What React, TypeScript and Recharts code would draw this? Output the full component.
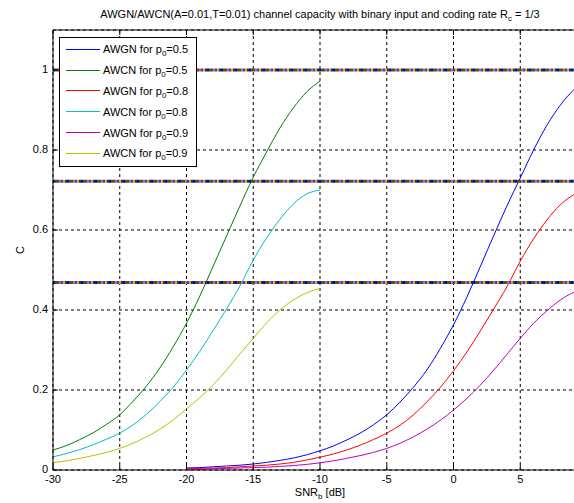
import React from "react";
import { LineChart, Line, XAxis, YAxis, CartesianGrid, ReferenceLine } from "recharts";

// SNR grids (dB)
const snrAwgn = [-20, -19, -18, -17, -16, -15, -14, -13, -12, -11, -10, -9, -8, -7, -6, -5, -4, -3, -2, -1, 0, 1, 2, 3, 4, 5, 6, 7, 8, 9, 10];
const snrAwcn = [-30, -29, -28, -27, -26, -25, -24, -23, -22, -21, -20, -19, -18, -17, -16, -15, -14, -13, -12, -11, -10];

// capacity readings, AWGN channel
const awgn05 = [0.005, 0.006, 0.008, 0.01, 0.012, 0.015, 0.019, 0.024, 0.03, 0.038, 0.048, 0.06, 0.075, 0.092, 0.113, 0.138, 0.17, 0.207, 0.25, 0.303, 0.363, 0.432, 0.508, 0.585, 0.66, 0.73, 0.8, 0.862, 0.912, 0.95, 0.973];
const awgn08 = [0.003, 0.004, 0.005, 0.006, 0.008, 0.01, 0.012, 0.015, 0.019, 0.025, 0.032, 0.04, 0.05, 0.062, 0.076, 0.092, 0.112, 0.138, 0.17, 0.206, 0.248, 0.295, 0.347, 0.402, 0.458, 0.522, 0.578, 0.625, 0.663, 0.688, 0.702];
const awgn09 = [0.002, 0.002, 0.003, 0.004, 0.005, 0.006, 0.007, 0.009, 0.011, 0.014, 0.018, 0.023, 0.029, 0.036, 0.044, 0.054, 0.067, 0.083, 0.102, 0.124, 0.15, 0.179, 0.212, 0.249, 0.289, 0.329, 0.367, 0.398, 0.425, 0.444, 0.455];

// capacity readings, AWCN channel
const awcn05 = [0.05, 0.061, 0.076, 0.093, 0.114, 0.138, 0.172, 0.21, 0.255, 0.308, 0.367, 0.435, 0.51, 0.585, 0.66, 0.732, 0.795, 0.855, 0.905, 0.945, 0.972];
const awcn08 = [0.033, 0.041, 0.051, 0.063, 0.077, 0.092, 0.113, 0.139, 0.171, 0.207, 0.25, 0.297, 0.349, 0.403, 0.46, 0.525, 0.58, 0.627, 0.665, 0.69, 0.7];
const awcn09 = [0.018, 0.023, 0.029, 0.036, 0.044, 0.054, 0.067, 0.083, 0.102, 0.125, 0.153, 0.181, 0.213, 0.25, 0.29, 0.329, 0.368, 0.4, 0.425, 0.443, 0.454];

// entropy limits H(p0)
const capacityLimits = [1, 0.722, 0.469];

// the 10 dB tick falls outside the visible picture
const xTicks = [-30, -25, -20, -15, -10, -5, 0, 5];
const yTicks = [0, 0.2, 0.4, 0.6, 0.8, 1];

const series = [
  { channel: "AWGN", p0: "0.5", color: "#0000ff", snr: snrAwgn, values: awgn05 },
  { channel: "AWCN", p0: "0.5", color: "#008000", snr: snrAwcn, values: awcn05 },
  { channel: "AWGN", p0: "0.8", color: "#ff0000", snr: snrAwgn, values: awgn08 },
  { channel: "AWCN", p0: "0.8", color: "#00bfbf", snr: snrAwcn, values: awcn08 },
  { channel: "AWGN", p0: "0.9", color: "#bf00bf", snr: snrAwgn, values: awgn09 },
  { channel: "AWCN", p0: "0.9", color: "#bfbf00", snr: snrAwcn, values: awcn09 },
];

const stripeColors = ["#0000ff", "#008000", "#ff0000", "#00bfbf", "#bf00bf", "#bfbf00", "#333333"];

const FONT = '"Liberation Sans", Arial, Helvetica, sans-serif';
const TOP = 30;
const LEFT = 53;
const BOTTOM = 470;

const toPoints = (snr: number[], values: number[]) => snr.map((x, i) => ({ x, y: values[i] }));

const XTick = (props: any) => {
  const { x, y, payload } = props;
  return (
    <g>
      <line x1={x} y1={BOTTOM} x2={x} y2={BOTTOM - 5} stroke="#000" />
      <line x1={x} y1={TOP} x2={x} y2={TOP + 5} stroke="#000" />
      <text x={x} y={y} dy="0.71em" textAnchor="middle" fontSize={11} fill="#000" fontFamily={FONT}>
        {payload.value}
      </text>
    </g>
  );
};

const YTick = (props: any) => {
  const { x, y, payload } = props;
  return (
    <g>
      <line x1={LEFT} y1={y} x2={LEFT + 5} y2={y} stroke="#000" />
      <text x={x} y={y} dy="0.3em" textAnchor="end" fontSize={11} fill="#000" fontFamily={FONT}>
        {payload.value}
      </text>
    </g>
  );
};

// multi-coloured striped horizontal line
const StripedLine = (props: any) => {
  const { x1, y1, x2, y2 } = props;
  const seg = 2;
  return (
    <g>
      {stripeColors.map((c, i) => (
        <line
          key={c}
          x1={x1}
          y1={y1}
          x2={x2}
          y2={y2}
          stroke={c}
          strokeWidth={3}
          strokeDasharray={`${seg} ${seg * (stripeColors.length - 1)}`}
          strokeDashoffset={-i * seg}
        />
      ))}
    </g>
  );
};

export default function App() {
  return (
    <div
      style={{
        position: "absolute",
        left: 0,
        top: 0,
        width: 574,
        height: 503,
        overflow: "hidden",
        background: "#fff",
        fontFamily: FONT,
      }}
    >
      <LineChart width={600} height={503} margin={{ top: TOP, right: 13, bottom: 0, left: 0 }}>
        <CartesianGrid stroke="#000" strokeDasharray="3 3" />
        <XAxis
          type="number"
          dataKey="x"
          domain={[-30, 10]}
          ticks={xTicks}
          allowDataOverflow
          height={33}
          tickSize={0}
          tickMargin={5}
          tickLine={false}
          axisLine={{ stroke: "#000" }}
          tick={<XTick />}
        />
        <YAxis
          type="number"
          domain={[0, 1.1]}
          ticks={yTicks}
          allowDataOverflow
          width={LEFT}
          tickSize={0}
          tickMargin={5}
          tickLine={false}
          axisLine={{ stroke: "#000" }}
          tick={<YTick />}
        />
        <ReferenceLine y={1.1} stroke="#000" />
        {series.map((s) => (
          <Line
            key={s.channel + s.p0}
            data={toPoints(s.snr, s.values)}
            dataKey="y"
            type="monotone"
            stroke={s.color}
            strokeWidth={1}
            dot={false}
            activeDot={false}
            isAnimationActive={false}
          />
        ))}
        {capacityLimits.map((v) => (
          <ReferenceLine key={v} y={v} shape={(p: any) => <StripedLine {...p} />} />
        ))}
      </LineChart>

      <svg
        width={574}
        height={503}
        style={{ position: "absolute", left: 0, top: 0, pointerEvents: "none" }}
        fontFamily={FONT}
      >
        <text x={320} y={18} textAnchor="middle" fontSize={11} fill="#000">
          AWGN/AWCN(A=0.01,T=0.01) channel capacity with binary input and coding rate R
          <tspan dy={3} fontSize={8}>c</tspan>
          <tspan dy={-3}> = 1/3</tspan>
        </text>
        <text x={320} y={496} textAnchor="middle" fontSize={11} fill="#000">
          SNR<tspan dy={3} fontSize={8}>b</tspan>
          <tspan dy={-3}> [dB]</tspan>
        </text>
        <text x={20} y={250} textAnchor="middle" dy="0.35em" fontSize={11} fill="#000" transform="rotate(-90 20 250)">
          C
        </text>
      </svg>

      <div
        style={{
          position: "absolute",
          left: 59,
          top: 37,
          width: 138,
          height: 130,
          boxSizing: "border-box",
          border: "1px solid #000",
          background: "#fff",
          paddingTop: 1,
          fontSize: 11,
          color: "#000",
        }}
      >
        {series.map((s) => (
          <div key={s.channel + s.p0} style={{ height: 20.8, display: "flex", alignItems: "center" }}>
            <div style={{ width: 34, marginLeft: 6, borderTop: `1px solid ${s.color}` }} />
            <span style={{ marginLeft: 3, whiteSpace: "nowrap" }}>
              {s.channel} for p<sub style={{ fontSize: 8, verticalAlign: "-3px", lineHeight: 0 }}>0</sub>={s.p0}
            </span>
          </div>
        ))}
      </div>
    </div>
  );
}
